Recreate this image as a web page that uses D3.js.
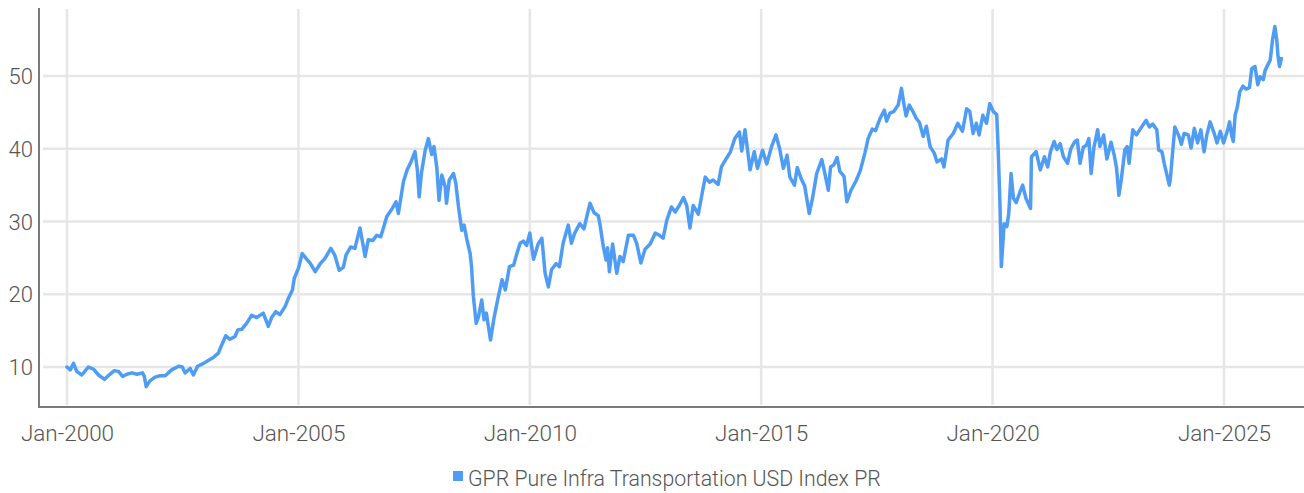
<!DOCTYPE html>
<html>
<head>
<meta charset="utf-8">
<script src="https://cdn.jsdelivr.net/npm/d3@7"></script>
<style>
  html, body { margin: 0; padding: 0; background: #fff; }
  svg text { font-family: Roboto, "Noto Sans", sans-serif; font-weight: 300; fill: #555; }
</style>
</head>
<body>
<div id="chart"></div>
<script>
const seriesName = 'GPR Pure Infra Transportation USD Index PR'

const dates = [
  2000.00, 2000.07, 2000.14, 2000.21, 2000.32, 2000.46, 2000.57, 2000.68, 2000.81, 2000.89,
  2001.02, 2001.11, 2001.20, 2001.29, 2001.40, 2001.51, 2001.63, 2001.67, 2001.71, 2001.79, 2001.90,
  2002.01, 2002.12, 2002.26, 2002.41, 2002.49, 2002.55, 2002.66, 2002.73, 2002.82, 2002.95,
  2003.05, 2003.16, 2003.27, 2003.34, 2003.43, 2003.52, 2003.63, 2003.69, 2003.78, 2003.88, 2003.99,
  2004.10, 2004.24, 2004.29, 2004.35, 2004.42, 2004.51, 2004.60, 2004.71, 2004.78, 2004.87, 2004.91,
  2005.00, 2005.08, 2005.18, 2005.25, 2005.36, 2005.47, 2005.57, 2005.70, 2005.79, 2005.88, 2005.97,
  2006.03, 2006.13, 2006.22, 2006.33, 2006.39, 2006.44, 2006.51, 2006.61, 2006.69, 2006.78, 2006.91,
  2007.01, 2007.11, 2007.16, 2007.27, 2007.35, 2007.42, 2007.52, 2007.57, 2007.61, 2007.66, 2007.74, 2007.81, 2007.88, 2007.93, 2007.99,
  2008.04, 2008.10, 2008.17, 2008.20, 2008.26, 2008.35, 2008.40, 2008.46, 2008.53, 2008.58, 2008.64, 2008.71, 2008.74, 2008.78, 2008.84, 2008.89, 2008.96,
  2009.01, 2009.06, 2009.15, 2009.23, 2009.32, 2009.40, 2009.47, 2009.56, 2009.65, 2009.72, 2009.79, 2009.86, 2009.93,
  2010.00, 2010.08, 2010.18, 2010.26, 2010.33, 2010.40, 2010.47, 2010.57, 2010.64, 2010.72, 2010.83, 2010.90, 2010.97,
  2011.08, 2011.17, 2011.30, 2011.39, 2011.48, 2011.52, 2011.59, 2011.65, 2011.68, 2011.72, 2011.79, 2011.88, 2011.95,
  2012.02, 2012.13, 2012.24, 2012.31, 2012.40, 2012.49, 2012.60, 2012.71, 2012.80, 2012.88, 2012.96,
  2013.06, 2013.14, 2013.23, 2013.32, 2013.39, 2013.46, 2013.53, 2013.64, 2013.71, 2013.79, 2013.88, 2013.96,
  2014.07, 2014.14, 2014.25, 2014.33, 2014.43, 2014.53, 2014.58, 2014.65, 2014.76, 2014.85, 2014.92,
  2015.03, 2015.12, 2015.23, 2015.32, 2015.40, 2015.48, 2015.56, 2015.62, 2015.72, 2015.78, 2015.87, 2015.94,
  2016.04, 2016.11, 2016.20, 2016.31, 2016.36, 2016.45, 2016.50, 2016.57, 2016.64, 2016.70, 2016.79, 2016.85, 2016.94,
  2017.05, 2017.14, 2017.24, 2017.31, 2017.40, 2017.47, 2017.57, 2017.66, 2017.71, 2017.78, 2017.86, 2017.96,
  2018.03, 2018.08, 2018.13, 2018.20, 2018.28, 2018.35, 2018.42, 2018.50, 2018.57, 2018.65, 2018.74, 2018.80, 2018.90, 2018.95,
  2019.04, 2019.15, 2019.25, 2019.35, 2019.44, 2019.51, 2019.58, 2019.65, 2019.71, 2019.79, 2019.87, 2019.94,
  2020.02, 2020.09, 2020.12, 2020.16, 2020.19, 2020.25, 2020.31, 2020.35, 2020.40, 2020.45, 2020.51, 2020.60, 2020.65, 2020.72, 2020.82, 2020.84, 2020.94,
  2021.03, 2021.12, 2021.19, 2021.25, 2021.33, 2021.39, 2021.46, 2021.53, 2021.62, 2021.69, 2021.78, 2021.83, 2021.89, 2021.96,
  2022.03, 2022.08, 2022.13, 2022.19, 2022.27, 2022.32, 2022.40, 2022.47, 2022.56, 2022.63, 2022.68, 2022.73, 2022.78, 2022.86, 2022.91, 2022.95,
  2023.03, 2023.11, 2023.22, 2023.32, 2023.39, 2023.46, 2023.55, 2023.59, 2023.66, 2023.71, 2023.82, 2023.84, 2023.89, 2023.94,
  2024.03, 2024.08, 2024.14, 2024.23, 2024.29, 2024.36, 2024.43, 2024.50, 2024.57, 2024.63, 2024.70, 2024.79, 2024.85, 2024.92, 2024.99,
  2025.08, 2025.12, 2025.17, 2025.20, 2025.24, 2025.29, 2025.34, 2025.41, 2025.48, 2025.55, 2025.60, 2025.67, 2025.73, 2025.78, 2025.85, 2025.89, 2025.96,
  2026.00, 2026.05, 2026.10, 2026.14, 2026.17, 2026.20, 2026.24
]

const values = [
  10.0, 9.6, 10.5, 9.4, 8.9, 10.0, 9.7, 8.9, 8.3, 8.8,
  9.5, 9.4, 8.7, 9.0, 9.2, 9.0, 9.2, 8.7, 7.3, 8.1, 8.6,
  8.8, 8.8, 9.6, 10.1, 10.0, 9.2, 9.8, 8.9, 10.1, 10.5,
  10.9, 11.3, 11.9, 13.0, 14.3, 13.8, 14.2, 15.1, 15.2, 16.0, 17.1,
  16.8, 17.4, 16.6, 15.6, 16.8, 17.6, 17.2, 18.3, 19.4, 20.6, 22.2,
  23.6, 25.6, 24.8, 24.3, 23.1, 24.2, 24.9, 26.3, 25.3, 23.3, 23.7,
  25.4, 26.5, 26.3, 29.1, 27.0, 25.2, 27.5, 27.4, 28.1, 27.9, 30.7,
  31.6, 32.7, 31.1, 35.5, 37.1, 38.0, 39.6, 37.1, 33.4, 36.7, 39.8, 41.4, 39.2, 40.3, 37.5,
  32.9, 36.4, 34.8, 32.5, 35.7, 36.6, 35.3, 32.0, 28.8, 29.5, 27.5, 25.6, 23.8, 19.7, 16.0, 16.9, 19.2,
  16.5, 17.4, 13.7, 16.9, 19.7, 22.0, 20.6, 23.8, 24.0, 25.6, 27.0, 27.3, 26.7,
  28.4, 24.8, 26.9, 27.7, 22.9, 21.0, 23.4, 24.2, 23.8, 27.0, 29.5, 27.0, 28.4,
  29.7, 29.0, 32.5, 31.2, 30.8, 29.5, 26.5, 24.7, 26.4, 23.1, 26.9, 22.9, 25.2,
  24.5, 28.1, 28.1, 27.0, 24.3, 26.2, 26.9, 28.4, 28.1, 27.7, 30.2,
  32.0, 31.3, 32.2, 33.3, 32.2, 29.1, 32.2, 31.0, 33.4, 36.1, 35.4, 35.7,
  35.1, 37.5, 38.7, 39.5, 41.4, 42.3, 39.7, 42.6, 37.1, 39.6, 37.3,
  39.8, 37.9, 40.4, 41.9, 40.0, 37.3, 39.1, 36.1, 35.0, 37.4, 35.8, 34.9,
  31.1, 33.2, 36.6, 38.5, 37.1, 34.3, 37.5, 37.8, 38.8, 36.9, 36.2, 32.7, 34.3,
  35.6, 37.0, 39.4, 41.4, 42.7, 42.5, 44.2, 45.3, 43.8, 44.9, 45.1, 46.0,
  48.3, 46.3, 44.5, 46.0, 45.1, 44.2, 43.6, 41.7, 43.1, 40.3, 39.4, 38.2, 38.6, 37.5,
  41.2, 42.1, 43.5, 42.4, 45.5, 45.1, 42.1, 43.5, 41.9, 44.6, 43.5, 46.2,
  45.1, 44.7, 40.3, 32.5, 23.8, 29.7, 29.3, 31.1, 36.6, 33.2, 32.6, 34.2, 35.0, 33.2, 31.8, 38.9, 39.6,
  37.1, 38.9, 37.5, 39.6, 41.0, 39.9, 40.7, 38.9, 38.0, 40.0, 41.0, 41.2, 38.0, 40.2,
  40.5, 41.4, 36.6, 40.2, 42.6, 40.3, 41.9, 38.6, 40.9, 39.1, 37.3, 33.6, 35.7, 39.9, 40.3, 38.0,
  42.6, 41.9, 43.0, 43.9, 43.0, 43.4, 42.6, 39.8, 39.6, 38.0, 35.0, 35.7, 39.4, 43.0,
  41.7, 40.6, 42.1, 41.9, 40.1, 42.8, 40.8, 42.6, 39.6, 41.9, 43.7, 42.1, 40.8, 42.4, 40.8,
  42.6, 43.7, 41.7, 41.0, 44.6, 45.8, 47.8, 48.6, 48.2, 48.4, 51.0, 51.3, 48.8, 49.9, 49.5, 50.8, 51.7,
  52.2, 55.0, 56.8, 55.0, 52.6, 51.3, 52.4
]

const yTicks = [10, 20, 30, 40, 50]
const xTickYears = [2000, 2005, 2010, 2015, 2020, 2025]

const width = 1304
const height = 493
const plot = { left: 39, right: 1304, top: 8, bottom: 407 }

// decimal year -> Date
const toDate = t => {
  const y = Math.floor(t)
  const a = Date.UTC(y, 0, 1), b = Date.UTC(y + 1, 0, 1)
  return new Date(a + (t - y) * (b - a))
}

const data = dates.map((t, i) => ({ date: toDate(t), value: values[i] }))

const svg = d3.select('#chart').append('svg')
  .attr('width', width)
  .attr('height', height)

const x = d3.scaleUtc()
  .domain([toDate(2000), toDate(2025)])
  .range([67, 1224])

const y = d3.scaleLinear()
  .domain([10, 50])
  .range([367, 76])

const fmt = d3.utcFormat('%b-%Y')

// grid
svg.append('g')
  .selectAll('line.h')
  .data(yTicks)
  .enter().append('line')
  .attr('x1', plot.left + 4).attr('x2', plot.right)
  .attr('y1', d => y(d)).attr('y2', d => y(d))
  .attr('stroke', '#e6e6e6').attr('stroke-width', 2.5)

svg.append('g')
  .selectAll('line.v')
  .data(xTickYears)
  .enter().append('line')
  .attr('x1', d => x(toDate(d))).attr('x2', d => x(toDate(d)))
  .attr('y1', plot.top + 1).attr('y2', plot.bottom - 2)
  .attr('stroke', '#e6e6e6').attr('stroke-width', 2.5)

// y axis
const yAxis = svg.append('g')
  .attr('transform', `translate(${plot.left},0)`)
  .call(d3.axisLeft(y).tickValues(yTicks).tickSize(0).tickPadding(6))
yAxis.select('.domain').remove()
yAxis.selectAll('text')
  .style('font-size', '22px')
  .attr('fill', '#555')
  .attr('dy', '0.35em')

// x axis
const xAxis = svg.append('g')
  .attr('transform', `translate(0,${plot.bottom})`)
  .call(d3.axisBottom(x).tickValues(xTickYears.map(toDate)).tickFormat(fmt).tickSize(0).tickPadding(18))
xAxis.select('.domain').remove()
xAxis.selectAll('text')
  .style('font-size', '22.5px')
  .attr('fill', '#555')

// axis lines
svg.append('line')
  .attr('x1', plot.left).attr('x2', plot.left)
  .attr('y1', plot.top).attr('y2', plot.bottom + 1)
  .attr('stroke', '#7a7a7a').attr('stroke-width', 2)
svg.append('line')
  .attr('x1', plot.left).attr('x2', plot.right)
  .attr('y1', plot.bottom).attr('y2', plot.bottom)
  .attr('stroke', '#7a7a7a').attr('stroke-width', 2)

// series
const line = d3.line()
  .x(d => x(d.date))
  .y(d => y(d.value))

svg.append('path')
  .datum(data)
  .attr('d', line)
  .attr('fill', 'none')
  .attr('stroke', '#4f9cf5')
  .attr('stroke-width', 3.5)
  .attr('stroke-linejoin', 'round')
  .attr('stroke-linecap', 'round')

// legend
const legend = svg.append('g').attr('transform', 'translate(453,471)')
legend.append('rect')
  .attr('width', 10).attr('height', 10)
  .attr('fill', '#4f9cf5')
legend.append('text')
  .attr('x', 15).attr('y', 14.5)
  .style('font-size', '21.3px')
  .attr('fill', '#555')
  .text(seriesName)
</script>
</body>
</html>
